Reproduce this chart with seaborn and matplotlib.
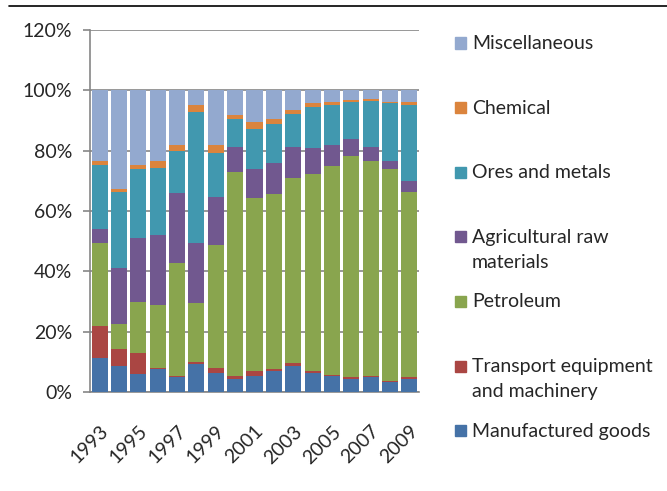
import matplotlib
matplotlib.use("Agg")
import matplotlib.pyplot as plt
from matplotlib.patches import Rectangle
from matplotlib.lines import Line2D
import numpy as np
import pandas as pd
import seaborn as sns

years = list(range(1993, 2010))
categories = ["Manufactured goods", "Transport equipment\nand machinery", "Petroleum",
              "Agricultural raw\nmaterials", "Ores and metals", "Chemical", "Miscellaneous"]
colors = ["#4572A7", "#AA4643", "#89A54E", "#71588F", "#4198AF", "#DB843D", "#93A9CF"]

manufactured = [11.3, 8.6, 5.9, 7.7, 5.0, 9.3, 6.4, 4.4, 5.3, 7.0, 8.6, 6.3, 5.3, 4.2, 4.9, 3.2, 4.3]
transport    = [10.6, 5.7, 6.9, 0.4, 0.3, 0.5, 1.6, 0.8, 1.6, 0.6, 1.0, 0.6, 0.5, 0.7, 0.4, 0.5, 0.6]
petroleum    = [27.4, 8.1, 17.2, 20.9, 37.6, 19.8, 40.7, 67.6, 57.4, 58.2, 61.5, 65.3, 69.1, 73.3, 71.3, 70.1, 61.4]
agricultural = [4.7, 18.7, 20.9, 23.0, 23.0, 19.7, 16.1, 8.5, 9.6, 10.2, 10.2, 8.7, 7.0, 5.7, 4.6, 2.8, 3.6]
ores         = [21.4, 25.2, 23.0, 22.4, 14.0, 43.4, 14.5, 9.3, 13.3, 12.9, 10.7, 13.7, 13.3, 12.3, 15.1, 19.1, 25.3]
chemical     = [1.2, 1.1, 1.5, 2.2, 2.0, 2.5, 2.6, 1.1, 2.2, 1.5, 1.6, 1.1, 1.0, 0.6, 0.9, 0.5, 1.0]
misc         = [23.4, 32.6, 24.6, 23.4, 18.1, 4.8, 18.1, 8.3, 10.6, 9.6, 6.4, 4.3, 3.8, 3.2, 2.8, 3.8, 3.8]

series = [manufactured, transport, petroleum, agricultural, ores, chemical, misc]
yticks = [0, 20, 40, 60, 80, 100, 120]

sns.set_style("white")
plt.rcParams["font.family"] = ["Lato", "DejaVu Sans"]
FS = 14

fig = plt.figure(figsize=(6.67, 4.91), dpi=100)
ax = fig.add_axes([90/667, 1-392/491, 329/667, 362/491])

cum = np.cumsum(np.array(series), axis=0)
df = pd.DataFrame({"year": [str(y) for y in years]})
# draw from top layer down so lower layers overlay
for i in range(len(series)-1, -1, -1):
    df["v"] = cum[i]
    sns.barplot(data=df, x="year", y="v", color=colors[i], saturation=1,
                width=0.83, ax=ax, linewidth=0, zorder=3)

ax.set_xlim(-0.5, len(years)-0.5)
ax.set_ylim(0, 120)
ax.set_yticks(yticks)
ax.set_yticklabels([f"{t}%" for t in yticks], fontsize=FS)
ax.yaxis.grid(True, color="#868686", linewidth=1.2, zorder=0)
ax.set_axisbelow(True)
ax.set_xlabel("")
ax.set_ylabel("")

ax.set_xticks(range(0, len(years), 2))
ax.set_xticklabels([str(y) for y in years[::2]], rotation=45, ha="right",
                   rotation_mode="anchor", fontsize=FS)
ax.set_xticks(np.arange(-0.5, len(years), 1), minor=True)
ax.tick_params(axis="x", which="major", length=0, pad=22)
ax.tick_params(axis="x", which="minor", length=5, color="#868686", width=1.2, direction="out")
ax.tick_params(axis="y", length=5, color="#868686", width=1.2, direction="out", pad=8, left=True)

for s in ["top", "right"]:
    ax.spines[s].set_visible(False)
for s in ["left", "bottom"]:
    ax.spines[s].set_color("#868686")
    ax.spines[s].set_linewidth(1.2)

# legend (manual, top entry = Miscellaneous)
for k, i in enumerate(range(len(categories)-1, -1, -1)):
    yc = 43 + 64.6*k
    fig.patches.append(Rectangle((455/667, 1-(yc+5.5)/491), 11/667, 11/491,
                                 transform=fig.transFigure, color=colors[i]))
    fig.text(472/667, 1-(yc-8)/491, categories[i], fontsize=FS, va="top", ha="left",
             linespacing=1.6)

fig.add_artist(Line2D([9/667, 1], [1-6/491, 1-6/491], color="black", linewidth=1.2,
                      transform=fig.transFigure))

fig.savefig("out.png", dpi=100)
